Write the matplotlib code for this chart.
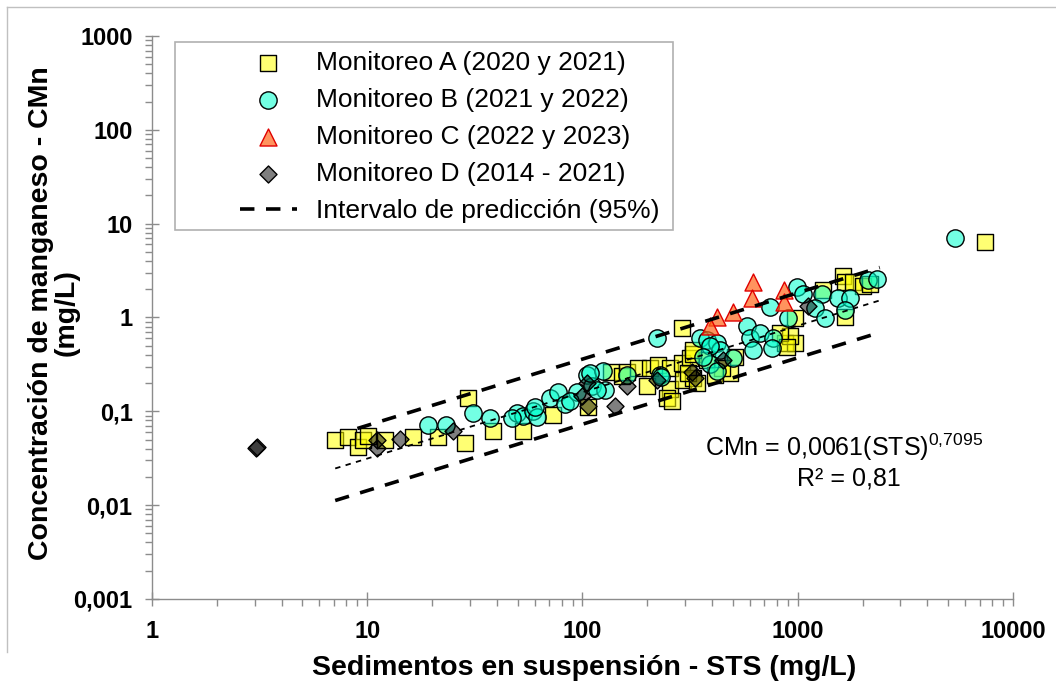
import numpy as np
import matplotlib
matplotlib.use('Agg')
import matplotlib.pyplot as plt
from matplotlib.patches import Rectangle
from matplotlib.lines import Line2D
from matplotlib.ticker import FixedLocator, FuncFormatter, LogLocator, NullFormatter

plt.rcParams['font.family'] = ['Liberation Sans', 'DejaVu Sans']
plt.rcParams['mathtext.fontset'] = 'custom'
plt.rcParams['mathtext.rm'] = 'Liberation Sans'

# Monitoreo A (2020 y 2021)
a_sts = [7.1, 8.1, 9.1, 9.6, 10.1, 12.1, 16.3, 21.3, 28.5, 29.4, 38.4, 53, 73, 106,
         136, 153, 161, 181, 206, 224, 255, 290, 316, 326, 199, 255, 247, 261, 293,
         326, 309, 340, 379, 485, 511, 290, 872, 971, 971, 920, 1623, 1658, 1805,
         2010, 2168, 1658, 1310, 7410, 445, 827, 891, 413, 326]
a_mn = [0.049, 0.053, 0.042, 0.049, 0.055, 0.050, 0.053, 0.053, 0.046, 0.140, 0.062,
        0.062, 0.092, 0.110, 0.26, 0.24, 0.26, 0.286, 0.293, 0.31, 0.286, 0.33, 0.366,
        0.41, 0.188, 0.175, 0.140, 0.130, 0.213, 0.229, 0.253, 0.198, 0.348, 0.253,
        0.375, 0.78, 0.53, 0.54, 0.98, 0.64, 2.80, 2.36, 2.36, 2.19, 2.30, 1.0, 1.94,
        6.3, 0.286, 0.675, 0.48, 0.241, 0.445]

# Monitoreo B (2021 y 2022)
b_sts = [5380, 19.2, 23.2, 31, 37.2, 49.6, 53, 58.9, 61.5, 70.6, 76.9, 83, 94.3, 105,
         111, 125, 127, 117, 222, 47, 87.5, 351, 379, 422, 435, 391, 422, 581, 600,
         668, 620, 743, 767, 759, 901, 992, 1057, 229, 1297, 1203, 1339, 1538, 1750,
         1658, 2120, 2335, 391, 60, 108, 161, 232, 363, 500]
b_mn = [6.95, 0.071, 0.072, 0.095, 0.084, 0.095, 0.090, 0.102, 0.086, 0.137, 0.159,
        0.121, 0.159, 0.241, 0.188, 0.272, 0.167, 0.167, 0.61, 0.084, 0.13, 0.60, 0.57,
        0.53, 0.445, 0.32, 0.272, 0.82, 0.61, 0.675, 0.445, 1.28, 0.60, 0.47, 0.98,
        2.09, 1.80, 0.241, 1.80, 1.25, 0.98, 1.60, 1.63, 1.19, 2.48, 2.54, 0.50, 0.11,
        0.253, 0.245, 0.23, 0.375, 0.366]

# Monitoreo C (2022 y 2023)
c_sts = [620, 613, 863, 863, 500, 422, 391]
c_mn = [2.36, 1.63, 1.94, 1.48, 1.13, 1.0, 0.82]

# Monitoreo D (2014 - 2021)
d_sts = [3.05, 3.09, 11.1, 11.1, 14.2, 25, 100, 106, 105, 142, 161, 222, 323, 333, 450, 1116]
d_mn = [0.041, 0.0415, 0.049, 0.041, 0.051, 0.062, 0.147, 0.115, 0.198, 0.115, 0.188,
        0.213, 0.26, 0.229, 0.348, 1.34]

# trend line and 95% prediction interval (ends)
fit_sts = [7.1, 2405]
fit_mn = [0.0246, 1.52]
up_sts = [9.0, 2405]
up_mn = [0.0656, 3.41]
low_sts = [7.1, 2405]
low_mn = [0.0112, 0.692]

labels = ['Monitoreo A (2020 y 2021)', 'Monitoreo B (2021 y 2022)',
          'Monitoreo C (2022 y 2023)', 'Monitoreo D (2014 - 2021)',
          'Intervalo de predicción (95%)']

fig = plt.figure(figsize=(10.56, 6.84), dpi=100)
ax = fig.add_axes([0.1439, 0.1243, 0.8154, 0.8231])

sa = ax.scatter(a_sts, a_mn, marker='s', s=130, facecolors=(1, 1, 0, 0.55),
                edgecolors='black', linewidths=1.0, zorder=3)
sb = ax.scatter(b_sts, b_mn, marker='o', s=155, facecolors=(0, 1, 0.8, 0.55),
                edgecolors='black', linewidths=1.0, zorder=4)
sc = ax.scatter(c_sts, c_mn, marker='^', s=150, facecolors=(1, 0.4, 0.1, 0.7),
                edgecolors='#E00000', linewidths=1.0, zorder=5)
sd = ax.scatter(d_sts, d_mn, marker='D', s=75, facecolors=(0, 0, 0, 0.5),
                edgecolors='black', linewidths=1.0, zorder=6)

ax.plot(fit_sts, fit_mn, color='black', lw=1.3, dashes=(3, 3), zorder=7)
li, = ax.plot(up_sts, up_mn, color='black', lw=2.6, dashes=(4, 3.2), zorder=7)
ax.plot(low_sts, low_mn, color='black', lw=2.6, dashes=(4, 3.2), zorder=7)

ax.set_xscale('log')
ax.set_yscale('log')
ax.set_xlim(1, 10000)
ax.set_ylim(0.001, 1000)

for side in ['top', 'right']:
    ax.spines[side].set_visible(False)
for side in ['left', 'bottom']:
    ax.spines[side].set_color('#8C8C8C')
    ax.spines[side].set_linewidth(1.0)

ax.xaxis.set_major_locator(FixedLocator([1, 10, 100, 1000, 10000]))
ax.yaxis.set_major_locator(FixedLocator([0.001, 0.01, 0.1, 1, 10, 100, 1000]))
ax.xaxis.set_minor_locator(LogLocator(base=10, subs=np.arange(2, 10)))
ax.yaxis.set_minor_locator(LogLocator(base=10, subs=np.arange(2, 10)))
ax.xaxis.set_minor_formatter(NullFormatter())
ax.yaxis.set_minor_formatter(NullFormatter())
ax.xaxis.set_major_formatter(FuncFormatter(lambda v, p: '%g' % v))
ax.yaxis.set_major_formatter(FuncFormatter(lambda v, p: ('%g' % v).replace('.', ',')))

ax.tick_params(which='major', direction='inout', length=10, width=1.0, color='#8C8C8C')
ax.tick_params(which='minor', direction='out', length=5, width=1.0, color='#8C8C8C')
ax.tick_params(axis='x', which='major', pad=10, labelsize=17)
ax.tick_params(axis='y', which='major', pad=9, labelsize=17)
for t in ax.get_xticklabels() + ax.get_yticklabels():
    t.set_fontweight('bold')

ax.set_xlabel('Sedimentos en suspensión - STS (mg/L)', fontsize=20.5, fontweight='bold')
ax.set_ylabel('Concentración de manganeso - CMn\n(mg/L)', fontsize=20.5,
              fontweight='bold', linespacing=1.0)
ax.xaxis.set_label_coords(0.502, -0.099)
ax.yaxis.set_label_coords(-0.084, 0.508)

ax.text(0.642, 0.270, r'CMn = 0,0061(STS)$^{\mathregular{0{,}7095}}$', transform=ax.transAxes,
        fontsize=18, ha='left', va='center')
ax.text(0.749, 0.214, 'R² = 0,81', transform=ax.transAxes,
        fontsize=18, ha='left', va='center')

# legend box
ax.add_patch(Rectangle((0.0267, 0.655), 0.5783, 0.334, transform=ax.transAxes,
                       facecolor='white', edgecolor='#B0B0B0', lw=1.2, zorder=8))
leg = ax.legend([sa, sb, sc, sd, li], labels, loc='upper left',
                bbox_to_anchor=(0.102, 0.974), frameon=False, fontsize=19,
                borderpad=0, borderaxespad=0, handlelength=2.15, handletextpad=0.75,
                labelspacing=0.5, scatterpoints=1)
leg.set_zorder(9)

# chart area border
fig.add_artist(Line2D([0.0066, 0.0066], [0.9898, 0.0468], color='#C0C0C0', lw=1.0))
fig.add_artist(Line2D([0.0066, 1.0], [0.9898, 0.9898], color='#C0C0C0', lw=1.0))

fig.savefig('out.png', dpi=100)
